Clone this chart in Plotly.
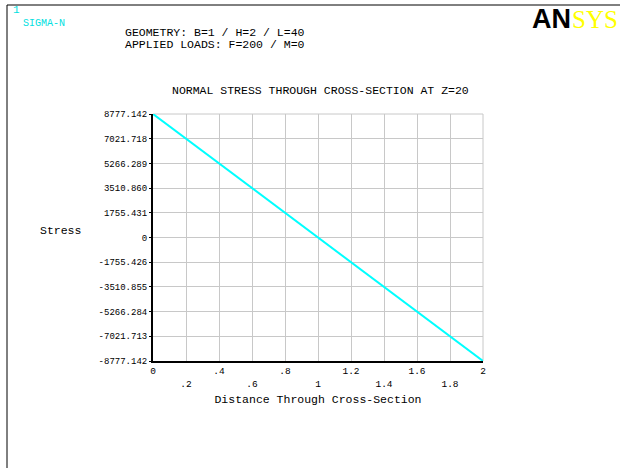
import plotly.graph_objects as go

# Data
distance = [0.0, 1.0, 2.0]
stress = [8777.142, 0.0, -8777.142]

y_tick_labels = ["8777.142", "7021.718", "5266.289", "3510.860", "1755.431", "0",
                 "-1755.426", "-3510.855", "-5266.284", "-7021.713", "-8777.142"]
y_tick_vals = [float(v) for v in y_tick_labels]
x_tick_vals = [0, 0.2, 0.4, 0.6, 0.8, 1.0, 1.2, 1.4, 1.6, 1.8, 2.0]
x_tick_labels = ["0", ".2", ".4", ".6", ".8", "1", "1.2", "1.4", "1.6", "1.8", "2"]

W, H = 620, 468
L, R, T, B = 153, 483, 114, 361
PW, PH = R - L, B - T

def px(x):
    return (x - L) / PW

def py(y):
    return (B - y) / PH

MONO = "Liberation Mono, Courier New, monospace"

fig = go.Figure()
fig.add_trace(go.Scatter(x=distance, y=stress, mode="lines",
                         line=dict(color="#00FFFF", width=2), showlegend=False,
                         cliponaxis=False))

ticktext = [t if i % 2 == 0 else "<br>" + t for i, t in enumerate(x_tick_labels)]

fig.update_layout(
    width=W, height=H,
    margin=dict(l=L, r=W - R, t=T, b=H - B),
    paper_bgcolor="white", plot_bgcolor="white",
    font=dict(family=MONO, color="black"),
    xaxis=dict(range=[0, 2], tickvals=x_tick_vals, ticktext=ticktext,
               showgrid=True, gridcolor="#c8c8c8", gridwidth=1,
               showline=True, linecolor="black", linewidth=2,
               zeroline=False, ticks="", tickfont=dict(size=9.5, family=MONO),
               title=dict(text="Distance Through Cross-Section",
                          font=dict(size=11.5, family=MONO), standoff=6),
               automargin=False),
    yaxis=dict(range=[-8777.142, 8777.142], tickvals=y_tick_vals, ticktext=y_tick_labels,
               showgrid=True, gridcolor="#c8c8c8", gridwidth=1,
               showline=True, linecolor="black", linewidth=2,
               zeroline=False, ticks="outside", ticklen=2, tickcolor="black",
               tickfont=dict(size=9, family=MONO), automargin=False),
)

# plot frame top/right in grid color
fig.add_shape(type="line", xref="paper", yref="paper", x0=0, x1=1, y0=1, y1=1,
              line=dict(color="#c8c8c8", width=1), layer="below")
fig.add_shape(type="line", xref="paper", yref="paper", x0=1, x1=1, y0=0, y1=1,
              line=dict(color="#c8c8c8", width=1), layer="below")

# window border (left and top)
fig.add_shape(type="line", xref="paper", yref="paper", x0=px(7), x1=px(7), y0=py(5), y1=py(470),
              line=dict(color="black", width=1))
fig.add_shape(type="line", xref="paper", yref="paper", x0=px(7), x1=px(625), y0=py(5), y1=py(5),
              line=dict(color="black", width=1))

def ann(text, x, y, size, color="black", xanchor="left", yanchor="middle", family=MONO):
    fig.add_annotation(text=text, x=px(x), y=py(y), xref="paper", yref="paper",
                       showarrow=False, xanchor=xanchor, yanchor=yanchor,
                       font=dict(size=size, color=color, family=family))

ann("1", 11, 10, 11, color="#00E0E0")
ann("SIGMA-N", 21, 24, 10, color="#00E0E0")
ann("GEOMETRY: B=1 / H=2 / L=40", 123, 32, 11.5)
ann("APPLIED LOADS: F=200 / M=0", 123, 44, 11.5)
ann("NORMAL STRESS THROUGH CROSS-SECTION AT Z=20", 320, 91, 11.5, xanchor="center")
ann("Stress", 60, 230, 11.5, xanchor="center")

# logo
ann("<b>AN</b>", 530, 19, 27, family="Liberation Sans, Arial, sans-serif")
ann("SYS", 570, 20, 25, color="#FFFF00", family="Liberation Serif, Times New Roman, serif")

fig.write_html("out.html")
